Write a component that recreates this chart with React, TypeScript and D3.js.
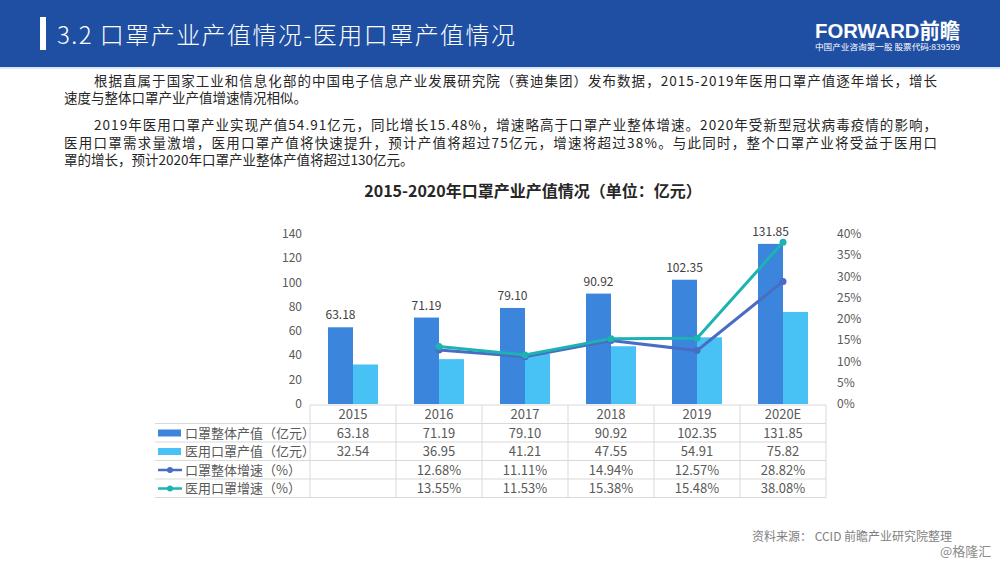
import React from 'react';
import * as d3 from 'd3';

const years = ['2015', '2016', '2017', '2018', '2019', '2020E'];
const totalValue = [63.18, 71.19, 79.1, 90.92, 102.35, 131.85];
const medicalValue = [32.54, 36.95, 41.21, 47.55, 54.91, 75.82];
const totalGrowth: (number | null)[] = [null, 12.68, 11.11, 14.94, 12.57, 28.82];
const medicalGrowth: (number | null)[] = [null, 13.55, 11.53, 15.38, 15.48, 38.08];
const leftTicks = [0, 20, 40, 60, 80, 100, 120, 140];
const rightTicks = [0, 5, 10, 15, 20, 25, 30, 35, 40];

const seriesNames = ['口罩整体产值（亿元）', '医用口罩产值（亿元）', '口罩整体增速（%）', '医用口罩增速（%）'];

const paragraph = [
  { text: '根据直属于国家工业和信息化部的中国电子信息产业发展研究院（赛迪集团）发布数据，2015-2019年医用口罩产值逐年增长，增长', x: 94, y: 86, full: true },
  { text: '速度与整体口罩产业产值增速情况相似。', x: 64, y: 103, full: false },
  { text: '2019年医用口罩产业实现产值54.91亿元，同比增长15.48%，增速略高于口罩产业整体增速。2020年受新型冠状病毒疫情的影响，', x: 94, y: 130, full: true },
  { text: '医用口罩需求量激增，医用口罩产值将快速提升，预计产值将超过75亿元，增速将超过38%。与此同时，整个口罩产业将受益于医用口', x: 64, y: 148, full: true },
  { text: '罩的增长，预计2020年口罩产业整体产值将超过130亿元。', x: 64, y: 165, full: false },
];

const DARK = '#3b86dc';
const LIGHT = '#48c2f4';
const LINE1 = '#4a6cc2';
const LINE2 = '#1db3b3';
const GRID = '#d9d9d9';
const TXT = '#595959';
const FONT = '"Noto Sans CJK SC", "Noto Sans", sans-serif';

const App: React.FC = () => {
  const x = d3.scaleBand<string>().domain(years).range([310, 826]).padding(0);
  const y = d3.scaleLinear().domain([0, 140]).range([404, 234]);
  const yr = d3.scaleLinear().domain([0, 40]).range([404, 234]);
  const bw = 25;
  const cx = (i: number) => (x(years[i]) as number) + x.bandwidth() / 2;

  const lineGen = d3
    .line<number | null>()
    .defined((d) => d !== null)
    .x((_, i) => cx(i))
    .y((d) => yr(d as number));

  const rowH = 18.5;
  const tableTop = 405;
  const rowY = (r: number) => tableTop + r * rowH;
  const rows = [
    totalValue.map((v) => v.toFixed(2)),
    medicalValue.map((v) => v.toFixed(2)),
    totalGrowth.map((v) => (v === null ? '' : v.toFixed(2) + '%')),
    medicalGrowth.map((v) => (v === null ? '' : v.toFixed(2) + '%')),
  ];

  return (
    <svg width={1000} height={563} style={{ position: 'absolute', left: 0, top: 0 }} fontFamily={FONT}>
      <rect x={0} y={0} width={1000} height={563} fill="#fff" />
      {/* header */}
      <rect x={0} y={0} width={1000} height={67} fill="#1f4fa3" />
      <rect x={0} y={67} width={1000} height={2} fill="#d6e8f7" />
      <rect x={40} y={17} width={6} height={33} fill="#fff" />
      <text x={57} y={44} fill="#fff" fontSize={24} fontWeight={300} textLength={458} lengthAdjust="spacing">
        3.2 口罩产业产值情况-医用口罩产值情况
      </text>
      <text x={815} y={38} fill="#fff" fontSize={21} fontWeight={700} fontFamily='"Liberation Sans", "Noto Sans CJK SC", sans-serif' textLength={145} lengthAdjust="spacingAndGlyphs">
        FORWARD前瞻
      </text>
      <text x={815} y={50} fill="#fff" fontSize={8} textLength={145} lengthAdjust="spacingAndGlyphs">
        中国产业咨询第一股 股票代码:839599
      </text>

      {/* paragraph */}
      {paragraph.map((p, i) => (
        <text
          key={i}
          x={p.x}
          y={p.y}
          fontSize={13.5}
          fill="#262626"
          {...(p.full ? { textLength: 937 - p.x, lengthAdjust: 'spacing' } : {})}
        >
          {p.text}
        </text>
      ))}

      {/* chart title */}
      <text x={533} y={197} textAnchor="middle" fontSize={16} fontWeight={700} fill="#262626">
        2015-2020年口罩产业产值情况（单位：亿元）
      </text>

      {/* left axis labels */}
      {leftTicks.map((t) => (
        <text key={t} x={302} y={y(t) + 4} textAnchor="end" fontSize={12} fill={TXT}>
          {t}
        </text>
      ))}
      {/* right axis labels */}
      {rightTicks.map((t) => (
        <text key={t} x={837} y={yr(t) + 4} fontSize={12} fill={TXT}>
          {t}%
        </text>
      ))}

      {/* bars */}
      {years.map((yy, i) => (
        <g key={yy}>
          <rect x={cx(i) - bw} y={y(totalValue[i])} width={bw} height={y(0) - y(totalValue[i])} fill={DARK} />
          <rect x={cx(i)} y={y(medicalValue[i])} width={bw} height={y(0) - y(medicalValue[i])} fill={LIGHT} />
          <text x={cx(i) - bw / 2} y={y(totalValue[i]) - 8} textAnchor="middle" fontSize={12} fill="#404040">
            {totalValue[i].toFixed(2)}
          </text>
        </g>
      ))}

      {/* lines */}
      <path d={lineGen(totalGrowth) || ''} fill="none" stroke={LINE1} strokeWidth={3} />
      <path d={lineGen(medicalGrowth) || ''} fill="none" stroke={LINE2} strokeWidth={3} />
      {totalGrowth.map((v, i) =>
        v === null ? null : <circle key={'a' + i} cx={cx(i)} cy={yr(v)} r={3.5} fill={LINE1} />
      )}
      {medicalGrowth.map((v, i) =>
        v === null ? null : <circle key={'b' + i} cx={cx(i)} cy={yr(v)} r={3.5} fill={LINE2} />
      )}

      {/* table */}
      <g stroke={GRID} strokeWidth={1} fill="none">
        <line x1={310} x2={826} y1={rowY(0)} y2={rowY(0)} />
        {[1, 2, 3, 4, 5].map((r) => (
          <line key={r} x1={155} x2={826} y1={rowY(r)} y2={rowY(r)} />
        ))}
        {years.map((yy) => (
          <line key={yy} x1={x(yy) as number} x2={x(yy) as number} y1={rowY(0)} y2={rowY(5)} />
        ))}
        <line x1={826} x2={826} y1={rowY(0)} y2={rowY(5)} />
      </g>
      {years.map((yy, i) => (
        <text key={yy} x={cx(i)} y={rowY(0) + 14} textAnchor="middle" fontSize={13} fill={TXT}>
          {yy}
        </text>
      ))}
      {rows.map((row, r) =>
        row.map((v, i) => (
          <text key={r + '-' + i} x={cx(i)} y={rowY(r + 1) + 14} textAnchor="middle" fontSize={13} fill={TXT}>
            {v}
          </text>
        ))
      )}
      {/* legend cells */}
      <rect x={158} y={rowY(1) + 6} width={23} height={7} fill={DARK} />
      <rect x={158} y={rowY(2) + 6} width={23} height={7} fill={LIGHT} />
      <line x1={158} x2={182} y1={rowY(3) + 9.5} y2={rowY(3) + 9.5} stroke={LINE1} strokeWidth={2.5} />
      <circle cx={170} cy={rowY(3) + 9.5} r={3} fill={LINE1} />
      <line x1={158} x2={182} y1={rowY(4) + 9.5} y2={rowY(4) + 9.5} stroke={LINE2} strokeWidth={2.5} />
      <circle cx={170} cy={rowY(4) + 9.5} r={3} fill={LINE2} />
      {seriesNames.map((n, r) => (
        <text key={n} x={185} y={rowY(r + 1) + 14} fontSize={13} fill={TXT}>
          {n}
        </text>
      ))}

      {/* source */}
      <text x={752} y={541} fontSize={12} fill="#7f7f7f">
        资料来源： CCID 前瞻产业研究院整理
      </text>
      <text x={940} y={556} fontSize={13} fill="#8c8c8c">
        @格隆汇
      </text>
    </svg>
  );
};

export default App;
